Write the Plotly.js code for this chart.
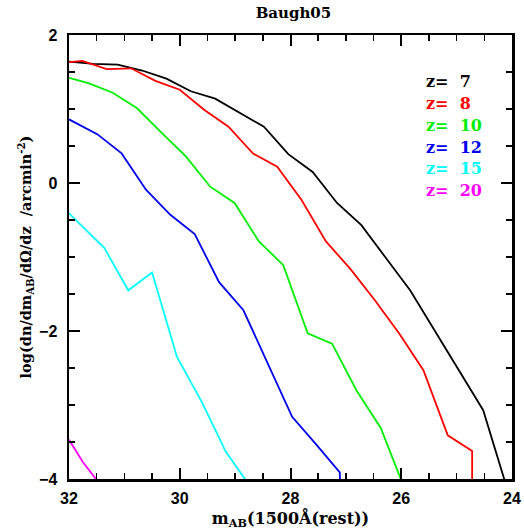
<!DOCTYPE html>
<html>
<head>
<meta charset="utf-8">
<script src="https://cdn.plot.ly/plotly-3.0.1.min.js"></script>
<style>html,body{margin:0;padding:0;background:#fff;}#chart{width:524px;height:531px;}</style>
</head>
<body>
<div id="chart"></div>
<script>
// Series: apparent magnitude m_AB vs log(dn/dm/dOmega/dz)
var labels = ["z=  7", "z=  8", "z=  10", "z=  12", "z=  15", "z=  20"];
var colors = ["#000000", "#ff0000", "#00ee00", "#0000ee", "#00ffff", "#ff00ff"];

var mag_z7  = [32.00, 31.56, 31.12, 30.68, 30.24, 29.80, 29.36, 28.92, 28.48, 28.04, 27.60, 27.16, 26.72, 26.28, 25.84, 25.40, 24.96, 24.52, 24.08];
var val_z7  = [1.64, 1.61, 1.60, 1.52, 1.41, 1.24, 1.14, 0.95, 0.76, 0.39, 0.15, -0.27, -0.57, -1.01, -1.45, -1.99, -2.53, -3.07, -4.15];

var mag_z8  = [32.20, 31.76, 31.32, 30.88, 30.44, 30.00, 29.56, 29.12, 28.68, 28.24, 27.80, 27.36, 26.92, 26.48, 26.04, 25.60, 25.16, 24.72, 24.72];
var val_z8  = [1.62, 1.65, 1.54, 1.55, 1.38, 1.26, 0.99, 0.76, 0.40, 0.22, -0.23, -0.79, -1.16, -1.58, -2.03, -2.53, -3.41, -3.62, -5.0];

var mag_z10 = [32.00, 31.65, 31.21, 30.77, 30.33, 29.89, 29.45, 29.01, 28.57, 28.13, 27.69, 27.25, 26.81, 26.37, 25.93];
var val_z10 = [1.42, 1.35, 1.22, 1.01, 0.68, 0.36, -0.05, -0.27, -0.79, -1.11, -2.03, -2.17, -2.80, -3.31, -4.15];

var mag_z12 = [32.00, 31.49, 31.05, 30.61, 30.17, 29.73, 29.29, 28.85, 28.41, 27.97, 27.53, 27.11, 27.09];
var val_z12 = [0.86, 0.66, 0.40, -0.09, -0.43, -0.69, -1.34, -1.72, -2.44, -3.16, -3.54, -3.91, -4.5];

var mag_z15 = [32.00, 31.36, 30.93, 30.50, 30.05, 29.60, 29.17, 28.73];
var val_z15 = [-0.41, -0.88, -1.45, -1.21, -2.35, -2.96, -3.63, -4.10];

var mag_z20 = [32.00, 31.75, 31.31];
var val_z20 = [-3.47, -3.77, -4.20];

var xs = [mag_z7, mag_z8, mag_z10, mag_z12, mag_z15, mag_z20];
var ys = [val_z7, val_z8, val_z10, val_z12, val_z15, val_z20];

var traces = xs.map(function (x, i) {
  return {
    x: x, y: ys[i], type: 'scatter', mode: 'lines', name: labels[i],
    line: {color: colors[i], width: 1.8}, showlegend: false, cliponaxis: true
  };
});

var annotations = labels.map(function (t, i) {
  var parts = t.split('=');
  return {
    xref: 'paper', yref: 'paper', x: 0.802, y: 1 - (46.7 + 21.7 * i) / 443,
    xanchor: 'left', yanchor: 'middle', showarrow: false,
    text: parts[0] + '=' + '\u00a0\u00a0' + parts[1].trim(),
    font: {family: 'DejaVu Serif', size: 16, color: colors[i], weight: 'bold'}
  };
});

var axisCommon = {
  showline: true, linecolor: '#000', linewidth: 2.5, mirror: 'allticks',
  ticks: 'inside', ticklen: 11, tickwidth: 2, tickcolor: '#000',
  showgrid: false, zeroline: false,
  tickfont: {family: 'Liberation Sans', size: 16, color: '#000', weight: 'bold'},
  minor: {ticks: 'inside', ticklen: 6, tickwidth: 1.5, tickcolor: '#000', dtick: 0.5, showgrid: false}
};

var layout = {
  width: 524, height: 531,
  margin: {l: 69, r: 12, t: 35, b: 52},
  paper_bgcolor: '#fff', plot_bgcolor: '#fff',
  title: {text: 'Baugh05', x: 0.56, xanchor: 'center', y: 0.976, yanchor: 'middle',
          font: {family: 'DejaVu Serif', size: 15, color: '#000', weight: 'bold'}},
  xaxis: Object.assign({}, axisCommon, {
    range: [32, 24], dtick: 2, tick0: 24, ticklabelstandoff: 3,
    title: {text: 'm<sub>AB</sub>(1500Å(rest))', standoff: 6,
            font: {family: 'DejaVu Serif', size: 16, color: '#000', weight: 'bold'}}
  }),
  yaxis: Object.assign({}, axisCommon, {
    range: [-4, 2], dtick: 2, tick0: 0, ticklabelstandoff: 6,
    title: {text: 'log(dn/dm<sub>AB</sub>/dΩ/dz  /arcmin<sup>-2</sup>)', standoff: 4,
            font: {family: 'DejaVu Serif', size: 14.5, color: '#000', weight: 'bold'}}
  }),
  annotations: annotations
};

Plotly.newPlot('chart', traces, layout, {staticPlot: true, displayModeBar: false});
</script>
</body>
</html>
